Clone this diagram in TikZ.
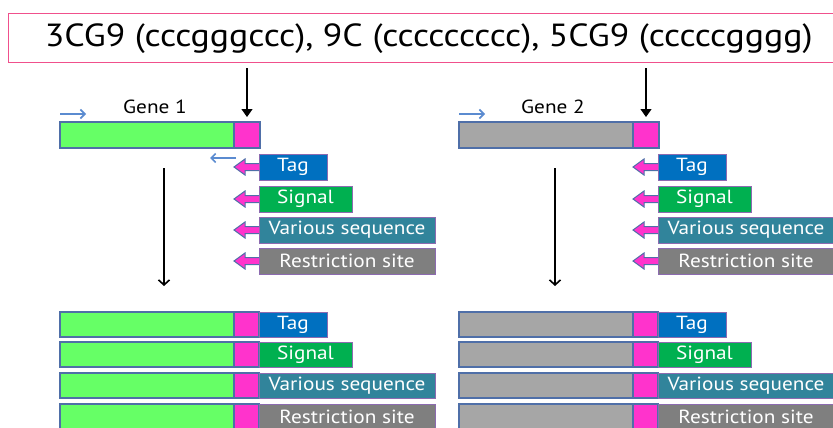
\documentclass[tikz,border=0pt]{standalone}
\usepackage{fontspec}
\setmainfont{PT Sans}[FakeStretch=1.12]
\usetikzlibrary{arrows.meta,calc}
\definecolor{titlepink}{HTML}{F0508C}
\definecolor{barline}{HTML}{4F6FA8}
\definecolor{boxline}{HTML}{8C6BB0}
\definecolor{genegreen}{HTML}{66FF66}
\definecolor{genegrey}{HTML}{A6A6A6}
\definecolor{mag}{HTML}{FF33CC}
\definecolor{tagblue}{HTML}{0070C0}
\definecolor{siggreen}{HTML}{00B050}
\definecolor{varteal}{HTML}{31849B}
\definecolor{resgrey}{HTML}{7F7F7F}
\definecolor{primer}{HTML}{5B8BD0}
\tikzset{
  rect/.style={anchor=north west, inner sep=0pt, outer sep=0pt, minimum height=#1},
  bar/.style={rect=26pt, draw=barline, line width=1.2pt},
  lab/.style={rect=26pt, draw=boxline, line width=1pt, text=white, font=\fontsize{19}{23}\selectfont},
  tagbox/.style={lab, fill=tagblue, minimum width=68pt},
  sigbox/.style={lab, fill=siggreen, minimum width=93pt},
  varbox/.style={lab, fill=varteal, minimum width=176pt},
  resbox/.style={lab, fill=resgrey, minimum width=176pt},
  marrow/.style={fill=mag, draw=barline, line width=1pt, line join=miter},
  primerarrow/.style={draw=primer, line width=1.6pt, -{Straight Barb[length=4.5pt,width=9pt]}},
  feed/.style={draw=black, line width=1.3pt, -{Triangle[length=8pt,width=11pt]}},
  flow/.style={draw=black, line width=1.6pt, -{Straight Barb[length=5pt,width=11pt]}},
}
\newcommand{\magarrow}[1]{%
  \draw[marrow] (#1.west) ++(0,-3.5) -- ++(-14,0) -- ++(0,-4.5) -- ++(-11,8)
     -- ++(11,8) -- ++(0,-4.5) -- ++(14,0);}
\begin{document}
\begin{tikzpicture}[x=1pt,y=-1pt]
\useasboundingbox (0,0) rectangle (833,428);
% title
\node[draw=titlepink, line width=1.3pt, minimum width=840pt, minimum height=49pt,
      inner sep=0pt, anchor=north west, font=\fontsize{32}{38}\selectfont]
  (title) at (8,13) {3CG9 (cccgggccc), 9C (ccccccccc), 5CG9 (cccccgggg)};

% ---------- Gene 1 ----------
\node[bar, fill=genegreen, minimum width=174pt] (g1) at (60,122) {};
\node[bar, fill=mag, minimum width=26pt] (m1) at (234,122) {};
\node[font=\fontsize{19}{22}\selectfont] (g1lab) at (155,107) {Gene 1};
\coordinate (p1a) at (60,114); \coordinate (p1b) at (86,114);
\draw[primerarrow] (p1a) -- (p1b);
\coordinate (p1c) at (236,158); \coordinate (p1d) at (210,158);
\draw[primerarrow] (p1c) -- (p1d);
\draw[feed] ([yshift=-5pt]title.south -| m1.north) -- ([yshift=5pt]m1.north);

\node[tagbox] (t1) at (259,154) {Tag};
\node[sigbox] (s1) at (259,186) {Signal};
\node[varbox] (v1) at (259,217) {Various sequence};
\node[resbox] (r1) at (259,248) {Restriction site};
\magarrow{t1}\magarrow{s1}\magarrow{v1}\magarrow{r1}

\coordinate (d1s) at (164,168); \coordinate (d1e) at (164,286);
\draw[flow] (d1s) -- (d1e);

\foreach \y/\st/\txt/\nm in {312/tagbox/Tag/a, 342/sigbox/Signal/b, 373/varbox/Various sequence/c, 404/resbox/Restriction site/d}{
  \node[bar, fill=genegreen, minimum width=174pt, minimum height=25pt] (lg\nm) at (60,\y) {};
  \node[bar, fill=mag, minimum width=25pt, minimum height=25pt] (lm\nm) at (234,\y) {};
  \node[\st, minimum height=25pt] (ll\nm) at (259,\y) {\txt};
}

% ---------- Gene 2 ----------
\node[bar, fill=genegrey, minimum width=174pt] (g2) at (459,122) {};
\node[bar, fill=mag, minimum width=26pt] (m2) at (633,122) {};
\node[font=\fontsize{19}{22}\selectfont] (g2lab) at (553,107) {Gene 2};
\coordinate (p2a) at (459,114); \coordinate (p2b) at (485,114);
\draw[primerarrow] (p2a) -- (p2b);
\draw[feed] ([yshift=-5pt]title.south -| m2.north) -- ([yshift=5pt]m2.north);

\node[tagbox] (t2) at (658,154) {Tag};
\node[sigbox] (s2) at (658,186) {Signal};
\node[varbox] (v2) at (658,217) {Various sequence};
\node[resbox] (r2) at (658,248) {Restriction site};
\magarrow{t2}\magarrow{s2}\magarrow{v2}\magarrow{r2}

\coordinate (d2s) at (555,168); \coordinate (d2e) at (555,286);
\draw[flow] (d2s) -- (d2e);

\foreach \y/\st/\txt/\nm in {312/tagbox/Tag/a, 342/sigbox/Signal/b, 373/varbox/Various sequence/c, 404/resbox/Restriction site/d}{
  \node[bar, fill=genegrey, minimum width=174pt, minimum height=25pt] (rg\nm) at (459,\y) {};
  \node[bar, fill=mag, minimum width=25pt, minimum height=25pt] (rm\nm) at (633,\y) {};
  \node[\st, minimum height=25pt] (rl\nm) at (658,\y) {\txt};
}
\end{tikzpicture}
\end{document}
